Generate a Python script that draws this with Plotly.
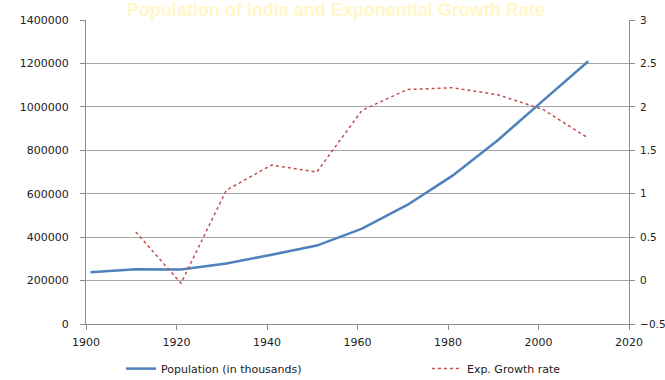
import plotly.graph_objects as go

# Census years
years = [1901, 1911, 1921, 1931, 1941, 1951, 1961, 1971, 1981, 1991, 2001, 2011]
# Population of India (in thousands)
population = [238396, 252093, 251321, 278977, 318661, 361088, 439235,
              548160, 683329, 846421, 1028737, 1210193]
# Exponential growth rate (% per annum), starting from 1911
growth_years = years[1:]
growth_rate = [0.56, -0.03, 1.04, 1.33, 1.25, 1.96, 2.20, 2.22, 2.14, 1.97, 1.64]

left_ticks = [0, 200000, 400000, 600000, 800000, 1000000, 1200000, 1400000]
right_ticks = [-0.5, 0, 0.5, 1, 1.5, 2, 2.5, 3]
x_ticks = [1900, 1920, 1940, 1960, 1980, 2000, 2020]

font_family = "DejaVu Sans, Verdana, sans-serif"
label_font = dict(family=font_family, size=11, color="#222222")

fig = go.Figure()
fig.add_trace(go.Scatter(
    x=years, y=population, mode="lines",
    name="Population (in thousands)", legend="legend",
    line=dict(color="#4F81BD", width=2.5),
))
fig.add_trace(go.Scatter(
    x=growth_years, y=growth_rate, mode="lines",
    name="Exp. Growth rate", yaxis="y2", legend="legend2",
    line=dict(color="#C0504D", width=1.5, dash="dot"),
))

axis_common = dict(
    showline=True, linecolor="#8c8c8c", linewidth=1,
    ticks="outside", ticklen=5, tickcolor="#8c8c8c",
    zeroline=False,
)

legend_common = dict(
    orientation="h", yref="container", y=0.03, yanchor="middle",
    xref="container", xanchor="left",
    font=label_font, itemwidth=30, bgcolor="rgba(0,0,0,0)",
)

fig.update_layout(
    width=665, height=380,
    margin=dict(l=86, r=36, t=20, b=56, autoexpand=False),
    paper_bgcolor="white", plot_bgcolor="white",
    showlegend=True,
    legend=dict(x=0.182, **legend_common),
    legend2=dict(x=0.642, **legend_common),
    title=dict(
        text="<b>Population of India and Exponential Growth Rate</b>",
        xref="container", x=0.505, xanchor="center",
        yref="container", y=0.975, yanchor="middle",
        font=dict(family="Liberation Sans, Arial, sans-serif", size=18,
                  color="#FFF7C8"),
    ),
    xaxis=dict(
        range=[1900, 2020], tickvals=x_ticks, showgrid=False,
        tickfont=label_font, ticklabelstandoff=3, **axis_common,
    ),
    yaxis=dict(
        range=[0, 1400000], tickvals=left_ticks,
        tickformat="d", showgrid=True, gridcolor="#a6a6a6", gridwidth=1,
        tickfont=label_font, ticklabelstandoff=9, **axis_common,
    ),
    yaxis2=dict(
        range=[-0.5, 3], tickvals=right_ticks,
        overlaying="y", side="right", showgrid=False,
        tickfont=dict(family=font_family, size=10.5, color="#222222"),
        ticklabelstandoff=3, **axis_common,
    ),
)

fig.write_html("out.html")
